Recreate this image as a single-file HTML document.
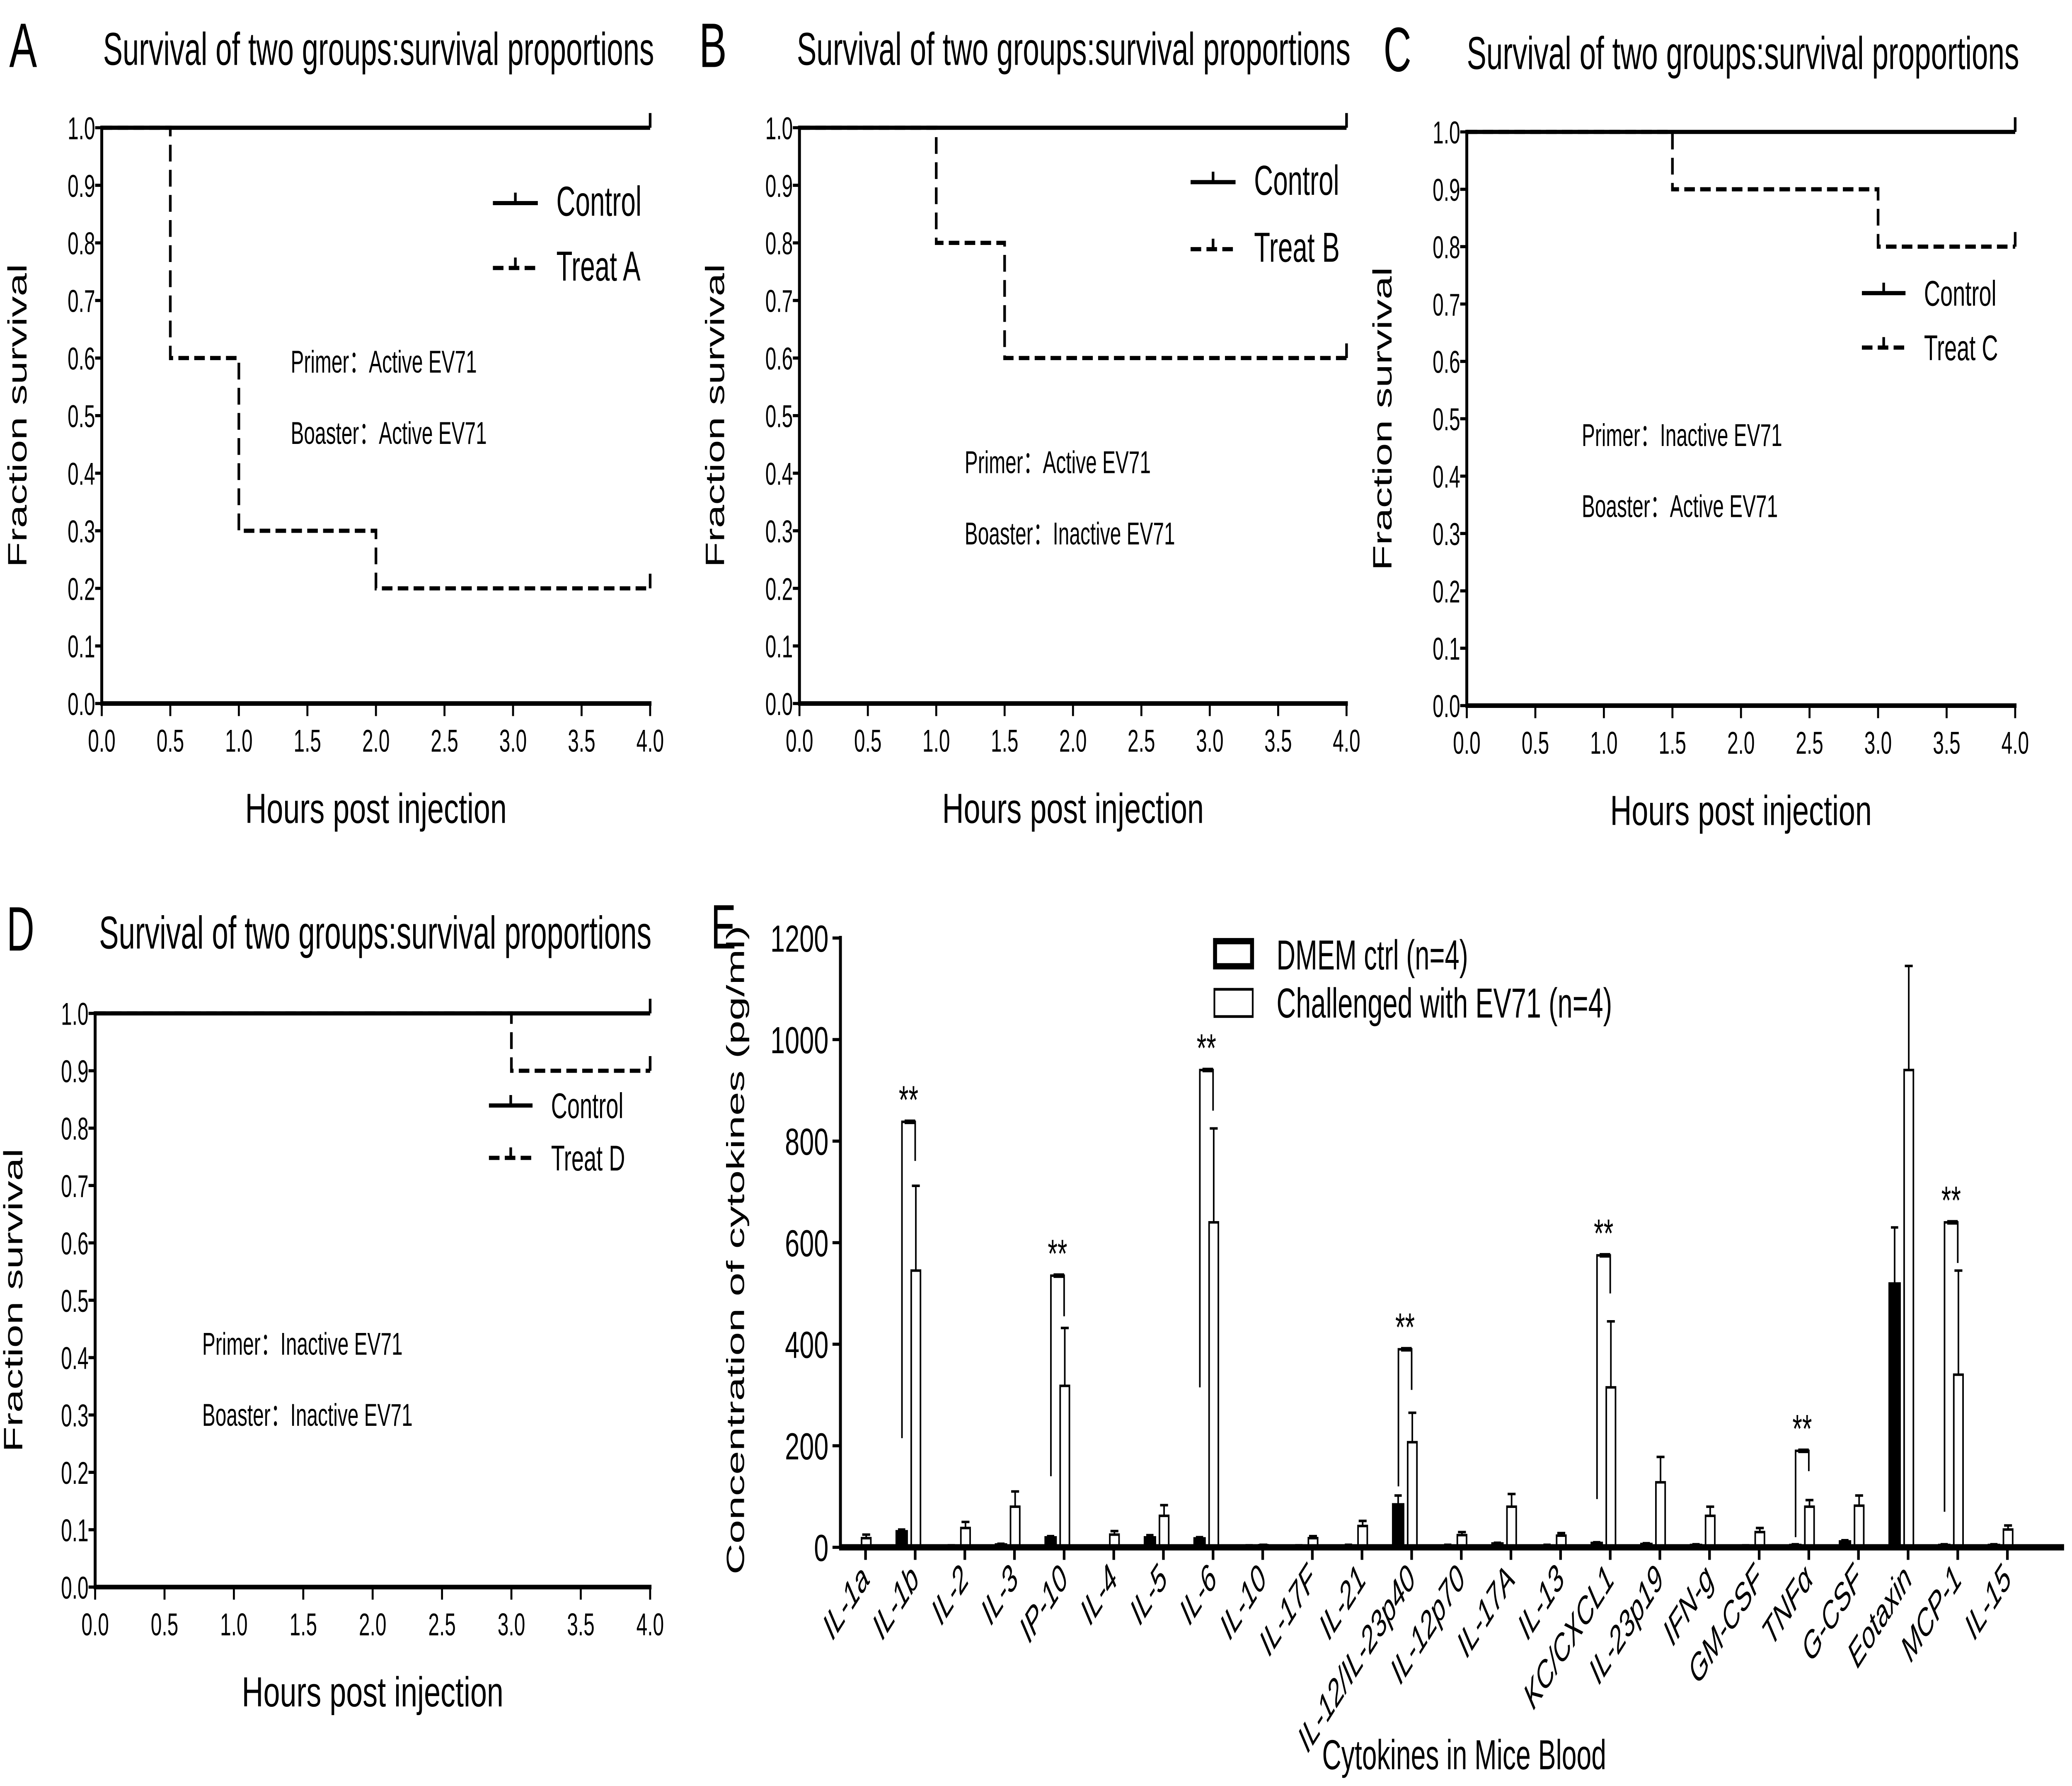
<!DOCTYPE html>
<html><head><meta charset="utf-8"><style>
html,body{margin:0;padding:0;background:#fff;width:100vw;height:100vh;overflow:hidden;}
svg{display:block;width:100vw;height:100vh;font-family:"Liberation Sans","Noto Sans CJK SC",sans-serif;}
</style></head><body>
<svg id="fig" viewBox="0 0 1568 853" preserveAspectRatio="none" xmlns="http://www.w3.org/2000/svg"></svg>
<script>
// ---- survival data ----
const timesA=[0,0.5,1,2,4]; const survA=[1,0.6,0.3,0.2,0.2];
const timesB=[0,1,1.5,4]; const survB=[1,0.8,0.6,0.6];
const timesC=[0,1.5,3,4]; const survC=[1,0.9,0.8,0.8];
const timesD=[0,3,4]; const survD=[1,0.9,0.9];
const ctrlTimes=[0,4]; const ctrlSurv=[1,1];
const survYTicks=["0.0","0.1","0.2","0.3","0.4","0.5","0.6","0.7","0.8","0.9","1.0"];
const survXTicks=["0.0","0.5","1.0","1.5","2.0","2.5","3.0","3.5","4.0"];
// ---- cytokine data ----
const cytokines=["IL-1a","IL-1b","IL-2","IL-3","IP-10","IL-4","IL-5","IL-6","IL-10","IL-17F","IL-21","IL-12/IL-23p40","IL-12p70","IL-17A","IL-13","KC/CXCL1","IL-23p19","IFN-g","GM-CSF","TNFα","G-CSF","Eotaxin","MCP-1","IL-15"];
const ctrlMean=[2,32,3,6,20,2,20,18,3,3,4,85,4,8,4,9,7,5,3,5,12,520,5,5];
const ctrlErr=[1,3,1,1,2,1,4,2,1,1,1,17,1,1,1,1,1,1,1,1,2,110,1,1];
const ev71Mean=[18,545,38,80,318,25,62,640,4,18,42,207,24,80,23,315,128,62,30,80,82,940,340,35];
const ev71Err=[7,167,12,30,114,7,21,185,1,4,10,58,6,25,5,130,50,18,8,13,20,205,205,8];
const cytoYTicks=[0,200,400,600,800,1000,1200];
const sigIdx=[1,4,7,11,15,19,22];
const sigLeftLo=[215,140,315,120,95,20,70];
const sigTop=[838,535,940,390,575,190,640];
const sigRightLo=[761,455,860,310,500,150,560];

const NS="http://www.w3.org/2000/svg";
const svg=document.getElementById('fig');
function mk(tag,attrs,name,parent){
  const el=document.createElementNS(NS,tag);
  for(const k in attrs) el.setAttribute(k,attrs[k]);
  
  
  (parent||svg).appendChild(el);
  return el;
}
function txt(s,x,y,size,name,extra,parent){
  const a=Object.assign({x:x,y:y,'font-size':size,fill:'#000'},extra||{});
  const t=mk('text',a,name,parent); t.textContent=s; return t;
}
const SG={lengthAdjust:'spacingAndGlyphs'};

function survPanel(p){
  const g=mk('g',{},'panel-'+p.id);
  const xs=t=>p.x0+(p.x1-p.x0)*t/4;
  const ys=v=>p.y1-(p.y1-p.y0)*v;
  txt(p.letter,p.lx,p.ty+1,30,'panel-letter',Object.assign({textLength:21},SG),g);
  txt("Survival of two groups:survival proportions",p.tx,p.ty,22,'chart-title',Object.assign({textLength:p.tl},SG),g);
  mk('line',{x1:p.x0,y1:p.y0-1,x2:p.x0,y2:p.y1+1,stroke:'#000','stroke-width':2.2},'y-axis',g);
  mk('line',{x1:p.x0-1,y1:p.y1,x2:p.x1+1,y2:p.y1,stroke:'#000','stroke-width':2.2},'x-axis',g);
  survYTicks.forEach((s,i)=>{const y=ys(i/10);
    mk('line',{x1:p.x0-5,y1:y,x2:p.x0,y2:y,stroke:'#000','stroke-width':1.5},'y-tick',g);
    txt(s,p.x0-5,y+5.5,15,'y-tick-label',{'text-anchor':'end'},g);});
  survXTicks.forEach((s,i)=>{const x=xs(i*0.5);
    mk('line',{x1:x,y1:p.y1,x2:x,y2:p.y1+6,stroke:'#000','stroke-width':1.5},'x-tick',g);
    txt(s,x,p.y1+23,15,'x-tick-label',{'text-anchor':'middle'},g);});
  const cy=(p.y0+p.y1)/2;
  txt("Fraction survival",p.yt,cy,20,'y-axis-title',Object.assign({'text-anchor':'middle',textLength:145,transform:`rotate(-90 ${p.yt} ${cy})`},SG),g);
  txt("Hours post injection",(p.x0+p.x1)/2,p.y1+57,20,'x-axis-title',Object.assign({'text-anchor':'middle',textLength:198},SG),g);
  function step(times,vals,dash,name){
    let d=`M${xs(times[0])} ${ys(vals[0])}`;
    for(let i=1;i<times.length;i++){ d+=` H${xs(times[i])} V${ys(vals[i])}`; }
    const a={d:d,fill:'none',stroke:'#000','stroke-width':2};
    if(dash) a['stroke-dasharray']='8 4';
    mk('path',a,name,g);
    const lx=xs(times[times.length-1]), ly=ys(vals[vals.length-1]);
    mk('line',{x1:lx,y1:ly-7,x2:lx,y2:ly,stroke:'#000','stroke-width':2},name+'-censor',g);
  }
  step(ctrlTimes,ctrlSurv,false,'control-curve');
  step(p.times,p.surv,true,'treat-curve');
  mk('line',{x1:p.legX,y1:p.legY,x2:p.legX+p.legW,y2:p.legY,stroke:'#000','stroke-width':2},'legend-control-line',g);
  mk('line',{x1:p.legX+p.legW/2,y1:p.legY-5,x2:p.legX+p.legW/2,y2:p.legY,stroke:'#000','stroke-width':2},'legend-control-tick',g);
  txt("Control",p.legX+p.legW+14,p.legY+6,p.legF,'legend-control-label',{},g);
  const y2=p.legY+p.legGap;
  mk('line',{x1:p.legX,y1:y2,x2:p.legX+p.legW,y2:y2,stroke:'#000','stroke-width':2,'stroke-dasharray':'8 4'},'legend-treat-line',g);
  mk('line',{x1:p.legX+p.legW/2,y1:y2-5,x2:p.legX+p.legW/2,y2:y2,stroke:'#000','stroke-width':2},'legend-treat-tick',g);
  txt(p.treat,p.legX+p.legW+14,y2+6,p.legF,'legend-treat-label',{},g);
  txt(p.ann1,p.ax,p.ay,15,'primer-note',{},g);
  txt(p.ann2,p.ax,p.ay+34,15,'booster-note',{},g);
}
survPanel({id:'a',letter:'A',lx:7,tx:78,ty:31,tl:417,x0:77,x1:492,y0:61,y1:336,yt:20,times:timesA,surv:survA,
  legX:373,legY:97,legW:34,legGap:31,legF:20,treat:'Treat A',ann1:'Primer：Active  EV71',ann2:'Boaster：Active  EV71',ax:220,ay:178});
survPanel({id:'b',letter:'B',lx:529,tx:603,ty:31,tl:419,x0:605,x1:1019,y0:61,y1:336,yt:548,times:timesB,surv:survB,
  legX:901,legY:87,legW:34,legGap:32,legF:20,treat:'Treat B',ann1:'Primer：Active  EV71',ann2:'Boaster：Inactive  EV71',ax:730,ay:226});
survPanel({id:'c',letter:'C',lx:1047,tx:1110,ty:33,tl:418,x0:1110,x1:1525,y0:63,y1:337,yt:1053,times:timesC,surv:survC,
  legX:1409,legY:140,legW:33,legGap:26,legF:17,treat:'Treat C',ann1:'Primer：Inactive  EV71',ann2:'Boaster：Active  EV71',ax:1197,ay:213});
survPanel({id:'d',letter:'D',lx:5,tx:75,ty:453,tl:418,x0:72,x1:492,y0:484,y1:758,yt:17,times:timesD,surv:survD,
  legX:370,legY:528,legW:33,legGap:25,legF:17,treat:'Treat D',ann1:'Primer：Inactive  EV71',ann2:'Boaster：Inactive  EV71',ax:153,ay:647});

// ---- panel E ----
(function(){
  const g=mk('g',{},'panel-e');
  const AX=636, X1=1562, Y0=739, YT=448;
  const xE=i=>655+i*37.57;
  const yE=v=>Y0-v*(Y0-YT)/1200;
  txt('E',538,453,30,'panel-letter',Object.assign({textLength:19},SG),g);
  mk('line',{x1:AX,y1:YT-1,x2:AX,y2:Y0,stroke:'#000','stroke-width':2.2},'y-axis',g);
  cytoYTicks.forEach(v=>{const y=yE(v);
    mk('line',{x1:AX-6,y1:y,x2:AX,y2:y,stroke:'#000','stroke-width':1.5},'y-tick',g);
    const s=String(v);
    txt(s,AX-9,y+6.5,18,'y-tick-label',Object.assign({'text-anchor':'end',textLength:s.length*11},SG),g);});
  txt("Concentration of cytokines (pg/ml)",563,597,19,'y-axis-title',Object.assign({'text-anchor':'middle',textLength:310,transform:'rotate(-90 563 597)'},SG),g);
  cytokines.forEach((c,i)=>{
    const cx=xE(i);
    const bh=Math.max(yE(0)-yE(ctrlMean[i]),1);
    mk('rect',{x:cx-14.4,y:Y0-bh,width:8.4,height:bh,fill:'#000',stroke:'#000','stroke-width':1},'bar-ctrl-'+c,g);
    const ey=yE(ctrlMean[i]+ctrlErr[i]);
    mk('path',{d:`M${cx-10.2} ${Y0-bh} V${ey} M${cx-13} ${ey} H${cx-7.5}`,stroke:'#000','stroke-width':1.2,fill:'none'},'errorbar-ctrl',g);
    const wh=Math.max(yE(0)-yE(ev71Mean[i]),1);
    mk('rect',{x:cx-3,y:Y0-wh,width:7,height:wh,fill:'#fff',stroke:'#000','stroke-width':1.2},'bar-ev71-'+c,g);
    const ey2=yE(ev71Mean[i]+ev71Err[i]);
    mk('path',{d:`M${cx+0.5} ${Y0-wh} V${ey2} M${cx-2.5} ${ey2} H${cx+3.5}`,stroke:'#000','stroke-width':1.2,fill:'none'},'errorbar-ev71',g);
    mk('line',{x1:cx,y1:Y0,x2:cx,y2:Y0+6,stroke:'#000','stroke-width':2},'x-tick',g);
    txt(c,cx+4,Y0+16,18,'x-tick-label',{'text-anchor':'end','font-style':'italic',transform:`rotate(-45 ${cx+4} ${Y0+16})`},g);
  });
  mk('line',{x1:AX-1,y1:Y0,x2:X1,y2:Y0,stroke:'#000','stroke-width':3},'x-axis',g);
  sigIdx.forEach((ci,k)=>{
    const cx=xE(ci);
    mk('path',{d:`M${cx-10} ${yE(sigLeftLo[k])} V${yE(sigTop[k])} H${cx} V${yE(sigRightLo[k])}`,stroke:'#000','stroke-width':1.2,fill:'none'},'significance-bracket',g);
    mk('line',{x1:cx-8,y1:yE(sigTop[k]),x2:cx,y2:yE(sigTop[k]),stroke:'#000','stroke-width':2.2},'bracket-top',g);
    txt('**',cx-5,yE(sigTop[k])-4,19,'significance-stars',{'text-anchor':'middle'},g);
  });
  txt("Cytokines in Mice Blood",1108,845,20,'x-axis-title',Object.assign({'text-anchor':'middle',textLength:215},SG),g);
  mk('rect',{x:919.5,y:449.5,width:28,height:12,fill:'#fff',stroke:'#000','stroke-width':3},'legend-ctrl-swatch',g);
  txt("DMEM ctrl (n=4)",966,463,20,'legend-ctrl-label',Object.assign({textLength:145},SG),g);
  mk('rect',{x:919,y:472.5,width:29,height:13,fill:'#fff',stroke:'#000','stroke-width':1.3},'legend-ev71-swatch',g);
  txt("Challenged with EV71 (n=4)",966,486,20,'legend-ev71-label',Object.assign({textLength:254},SG),g);
})();
</script>
</body></html>
